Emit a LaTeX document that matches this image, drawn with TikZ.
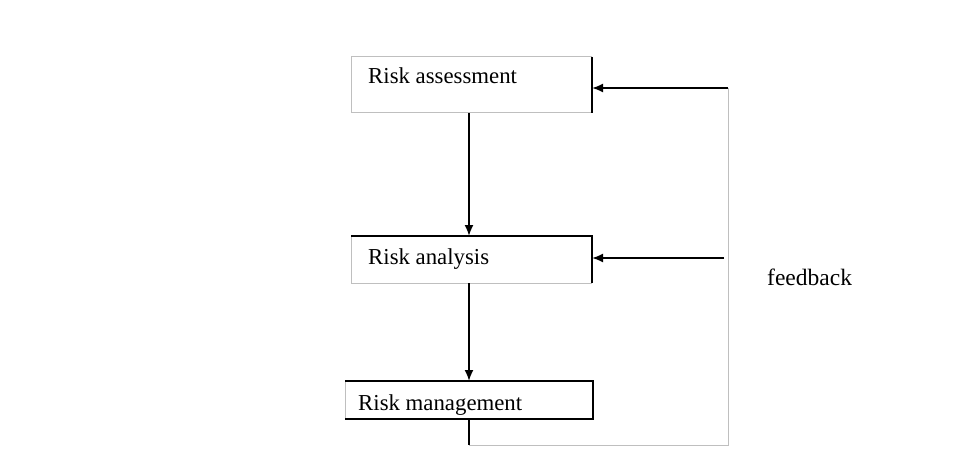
\documentclass[tikz,border=0pt]{standalone}
\usepackage{fontspec}
\setmainfont{Liberation Serif}
\usetikzlibrary{arrows.meta}
\begin{document}
\begin{tikzpicture}[x=1pt,y=-1pt,
  box/.style={minimum width=#1, inner sep=0pt, outer sep=0pt, draw=none},
  txt/.style={anchor=base west, inner sep=0pt, font=\fontsize{22.8}{25}\selectfont},
  blk/.style={black, line width=1.8pt},
  gry/.style={black!25, line width=1pt},
  arr/.style={blk, -{Latex[length=11pt,width=9pt]}}]
\useasboundingbox (0,0) rectangle (974,468);
% boxes
\node[box=241pt, minimum height=56pt] (ra) at (471.5,85) {};
\node[box=241pt, minimum height=47pt] (an) at (471.5,259.5) {};
\node[box=248pt, minimum height=38pt] (rm) at (469,400) {};
% risk assessment edges
\draw[gry] (ra.north east) -- (ra.north west) -- (ra.south west) -- (ra.south east);
\draw[blk] (ra.north east) -- (ra.south east);
% risk analysis edges
\draw[gry] (an.north west) -- (an.south west) -- (an.south east);
\draw[blk] (an.north west) -- (an.north east) -- (an.south east);
% risk management edges
\draw[gry] (rm.north west) -- (rm.south west);
\draw[blk] (rm.north west) -- (rm.north east) -- (rm.south east) -- (rm.south west);
% texts
\node[txt] (t1) at (368,84) {Risk assessment};
\node[txt] (t2) at (368,264) {Risk analysis};
\node[txt] (t3) at (358,410) {Risk management};
\node[txt, font=\fontsize{23.5}{25}\selectfont] (fb) at (767,285) {feedback};
% arrows
\coordinate (a1) at (469,113);
\coordinate (a2) at (469,283);
\draw[arr] (a1) -- (a1 |- an.north);
\draw[arr] (a2) -- (a2 |- rm.north);
% feedback loop
\coordinate (c1) at (469,445);
\coordinate (c2) at (728,445);
\coordinate (c3) at (728,88);
\coordinate (c4) at (724,258);
\draw[blk] (rm.south) -- (c1);
\draw[gry] (c1) -- (c2) -- (c3);
\draw[arr] (c3) -- (ra.east |- c3);
\draw[arr] (c4) -- (an.east |- c4);
\end{tikzpicture}
\end{document}
